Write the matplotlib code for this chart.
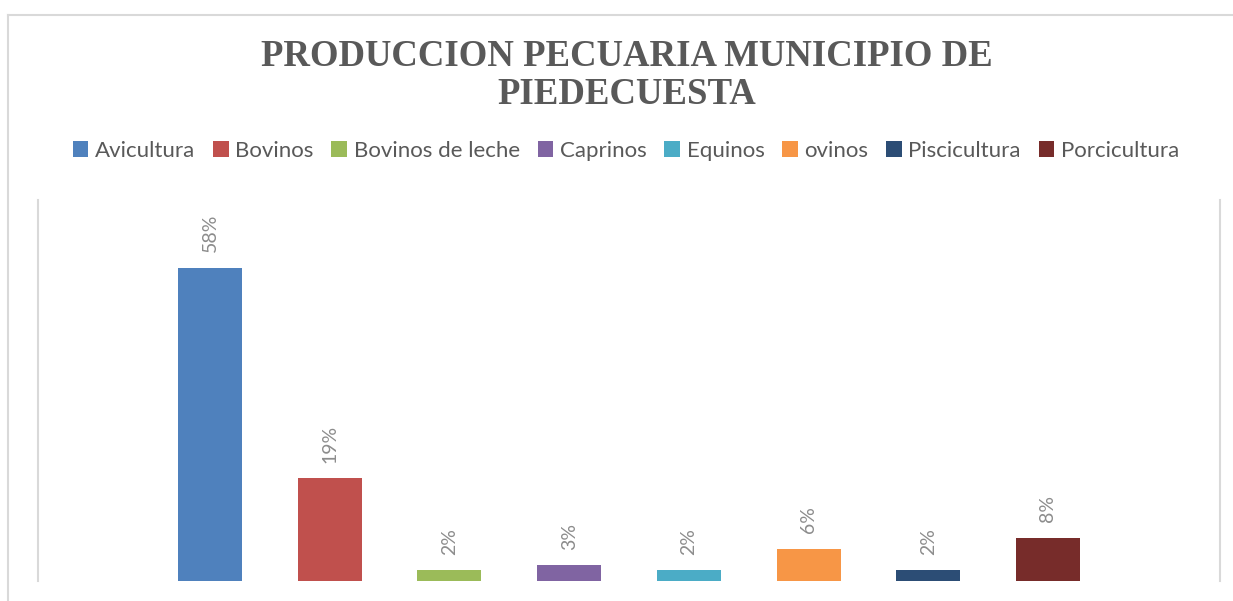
import matplotlib.pyplot as plt
from matplotlib.patches import Patch
from matplotlib.lines import Line2D

# data
categorias = ['Avicultura', 'Bovinos', 'Bovinos de leche', 'Caprinos', 'Equinos',
              'ovinos', 'Piscicultura', 'Porcicultura']
valores = [0.58, 0.19, 0.02, 0.03, 0.02, 0.06, 0.02, 0.08]
etiquetas = ['58%', '19%', '2%', '3%', '2%', '6%', '2%', '8%']
colores = ['#4F81BD', '#C0504D', '#9BBB59', '#8064A2', '#4BACC6',
           '#F79646', '#2C4D75', '#772C2A']

fig = plt.figure(figsize=(12.33, 6.01), dpi=100)
W, H = 1233, 601
ax = fig.add_axes([38 / W, 1 - 581 / H, (1220 - 38) / W, (581 - 200) / H])

x = list(range(len(valores)))
ax.bar(x, valores, width=0.535, color=colores)
for xi, v, lab in zip(x, valores, etiquetas):
    ax.annotate(lab, (xi, v), xytext=(0, 11), textcoords='offset points',
                rotation=90, ha='center', va='bottom', fontsize=14,
                color='#8c8c8c', family='Lato')

ax.set_xlim(-1.437, 8.437)
ax.set_ylim(0, 0.705)
ax.set_xticks([])
ax.set_yticks([])
for s in ['top', 'bottom']:
    ax.spines[s].set_visible(False)
for s in ['left', 'right']:
    ax.spines[s].set_color('#d9d9d9')
    ax.spines[s].set_linewidth(1.5)

# title
titulo = ['PRODUCCION PECUARIA MUNICIPIO DE', 'PIEDECUESTA']
for i, linea in enumerate(titulo):
    fig.text(627 / W, 1 - (57 + 37 * i) / H, linea, ha='center', va='center',
             fontsize=26.5, fontweight='bold', family='Liberation Serif', color='#595959')

handles = [Patch(facecolor=c, edgecolor='none') for c in colores]
fig.legend(handles, categorias, loc='center', bbox_to_anchor=(626 / W, 1 - 151 / H),
           ncol=8, frameon=False, handlelength=0.7, handleheight=0.7,
           handletextpad=0.3, columnspacing=0.8,
           prop={'family': 'Lato', 'size': 16}, labelcolor='#595959')

# chart border (top and left visible)
fig.add_artist(Line2D([8 / W, 1], [1 - 15 / H, 1 - 15 / H], color='#d9d9d9', lw=1.5))
fig.add_artist(Line2D([8 / W, 8 / W], [0, 1 - 15 / H], color='#d9d9d9', lw=1.5))

fig.savefig('out.png', dpi=100, facecolor='white')
